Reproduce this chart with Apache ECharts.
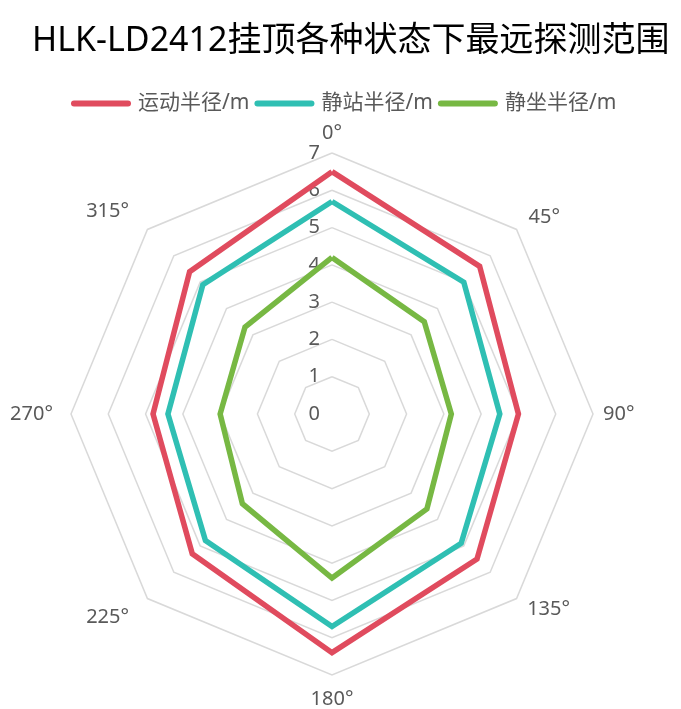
<!DOCTYPE html>
<html>
<head>
<meta charset="utf-8">
<script src="https://cdn.jsdelivr.net/npm/echarts@6/dist/echarts.min.js"></script>
<style>html,body{margin:0;padding:0;background:#fff}#c{width:681px;height:709px}</style>
</head>
<body>
<div id="c"></div>
<script>
var titleText = 'HLK-LD2412挂顶各种状态下最远探测范围';
var angles = ['0°', '45°', '90°', '135°', '180°', '225°', '270°', '315°'];
var seriesNames = ['运动半径/m', '静站半径/m', '静坐半径/m'];
var motion = [6.5, 5.6, 5.0, 5.5, 6.4, 5.3, 4.8, 5.4];
var standing = [5.7, 5.0, 4.5, 4.9, 5.7, 4.8, 4.4, 4.9];
var sitting = [4.2, 3.5, 3.2, 3.6, 4.4, 3.4, 3.0, 3.3];
var colors = ['#E04B5E', '#2FBFB3', '#77B843'];
var axisMax = 7;

// ECharts places indicators counter-clockwise; reorder so angles run clockwise
var order = [0, 7, 6, 5, 4, 3, 2, 1];
function reorder(arr) { return order.map(function (i) { return arr[i]; }); }
// label offsets per angle (in original angle order)
var nameGaps = [10, 17, 10, 15, 14, 26, 18, 26];

var FONT = "'Noto Sans', 'Noto Sans CJK SC', sans-serif";
var gapsOrdered = reorder(nameGaps);
var indicators = reorder(angles).map(function (a, k) {
  var ind = { name: a, min: 0, max: axisMax, nameGap: gapsOrdered[k] };
  if (k === 0) ind.axisLabel = { show: true };
  return ind;
});
var allData = [motion, standing, sitting];
var chart = echarts.init(document.getElementById('c'));
var legendIcon = 'path://M3,0 L57,0 A3,3 0 0 1 57,6 L3,6 A3,3 0 0 1 3,0 Z';
chart.setOption({
  animation: false,
  backgroundColor: '#fff',
  title: {
    text: titleText,
    left: 27, top: 19,
    textStyle: { fontFamily: FONT, fontSize: 34, fontWeight: 'normal', color: '#000' }
  },
  legend: {
    top: 88, left: 66,
    itemWidth: 60, itemHeight: 6, itemGap: 5,
    icon: legendIcon,
    textStyle: { fontFamily: FONT, fontSize: 21, color: '#595959', padding: [0, 0, 0, 2] },
    data: seriesNames
  },
  radar: {
    center: [332, 414],
    radius: 261,
    startAngle: 90,
    splitNumber: 7,
    shape: 'polygon',
    nameGap: 10,
    axisName: { fontFamily: FONT, fontSize: 20, color: '#595959' },
    axisLine: { show: false },
    axisTick: { show: false },
    splitArea: { show: false },
    splitLine: { lineStyle: { color: '#D9D9D9', width: 1.5 } },
    axisLabel: { show: false, fontFamily: FONT, fontSize: 20, color: '#595959', margin: 12 },
    indicator: indicators
  },
  series: [{
    type: 'radar',
    symbol: 'none',
    data: allData.map(function (d, i) {
      return {
        name: seriesNames[i],
        value: reorder(d),
        lineStyle: { color: colors[i], width: 5.5, join: 'miter' },
        itemStyle: { color: colors[i] }
      };
    })
  }]
});
</script>
</body>
</html>
